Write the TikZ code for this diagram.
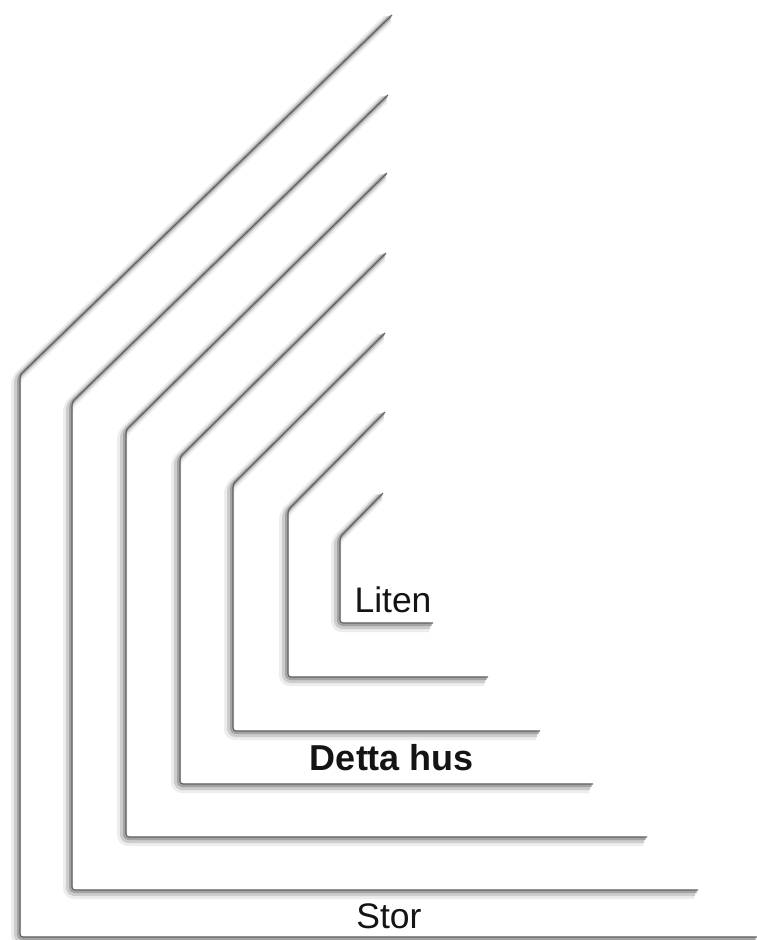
\documentclass[tikz,border=0pt]{standalone}
\usepackage{fontspec}
\setmainfont{Liberation Sans}
\begin{document}
\begin{tikzpicture}[x=1pt,y=-1pt,
  glowwide/.style={line width=10pt, draw=black!7, rounded corners=6pt, line join=round},
  glowmid/.style={line width=6pt, draw=black!20, rounded corners=5pt, line join=round},
  glowcore/.style={line width=3pt, draw=black!36, rounded corners=4pt, line join=round},
  edgeline/.style={line width=1.1pt, draw=black!62, rounded corners=3pt, line join=round},
  lbl/.style={font=\fontsize{35.5}{42}\selectfont, anchor=base, inner sep=0pt, text=black!92}]
\useasboundingbox[fill=white] (0,0) rectangle (757,940);
\foreach \tx/\ty/\vx/\cy/\by/\rx in {
  392/15/20/375/937/757,
  388/95/72/402/890/698,
  387/173/126/430/837/647,
  386/253/180/457/784/593,
  385/333/233/484/731/540,
  385/412/288/510/677/488,
  383/493/340/537/623/433}{
  \draw[glowwide] (\tx-4,\ty+4) -- (\vx-4,\cy+4) -- (\vx-4,\by+4) -- (\rx-4,\by+4);
  \draw[glowmid] (\tx-3,\ty+3) -- (\vx-3,\cy+3) -- (\vx-3,\by+3) -- (\rx-3,\by+3);
  \draw[glowcore] (\tx-1.5,\ty+1.5) -- (\vx-1.5,\cy+1.5) -- (\vx-1.5,\by+1.5) -- (\rx-1.5,\by+1.5);
  \draw[edgeline] (\tx,\ty) -- (\vx,\cy) -- (\vx,\by) -- (\rx,\by);
}
\node[lbl] (liten) at (393,612) {Liten};
\node[lbl, font=\fontsize{36}{42}\selectfont\bfseries] (detta) at (392,770) {Detta hus};
\node[lbl] (stor) at (389,928) {Stor};
\end{tikzpicture}
\end{document}
